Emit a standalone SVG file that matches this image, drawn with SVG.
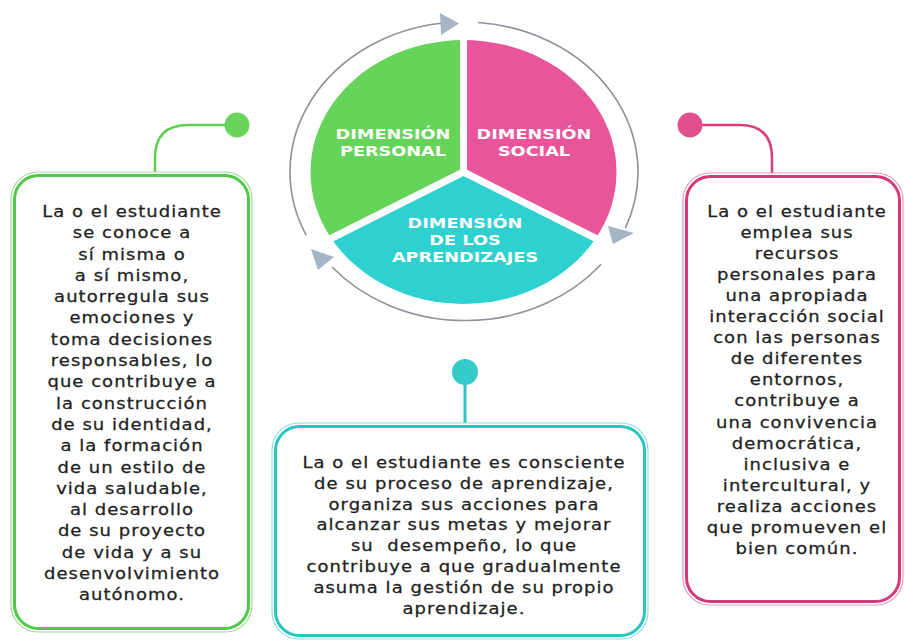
<svg xmlns="http://www.w3.org/2000/svg" width="905" height="641" viewBox="0 0 905 641">
<style>
.body{font-family:"DejaVu Sans","Liberation Sans",sans-serif;font-size:15.5px;fill:#222;stroke:#222;stroke-width:0.25px;letter-spacing:0.9px;text-anchor:middle}
.lbl{font-family:"DejaVu Sans","Liberation Sans",sans-serif;font-size:14.5px;font-weight:bold;fill:#fff;text-anchor:middle}
.ring{fill:none;stroke:#8c939b;stroke-width:1.6}
.tip{fill:#a4b6c6}
.div{stroke:#fff;stroke-width:7}
</style>
<rect width="905" height="641" fill="#fff"/>

<g id="connectors">
  <path class="ring" d="M 306.3 235.4 A 174 150 0 0 1 441 23.3"/>
  <path class="ring" d="M 478 22.5 A 174 150 0 0 1 625.3 228.2"/>
  <path class="ring" d="M 601.1 264.3 A 174 150 0 0 1 332 267"/>
  <polygon class="tip" points="440,13 459,23.5 441,35"/>
  <polygon class="tip" points="608,226 634,233 613,244"/>
  <polygon class="tip" points="311,249 334,257 318,270"/>
  <path d="M 225 125 H 188 Q 155 125 155 158 V 173" fill="none" stroke="#5fcf52" stroke-width="2.5"/>
  <circle cx="237" cy="125" r="12.5" fill="#6bd45c"/>
  <path d="M 465 384 V 424" fill="none" stroke="#2fc6c2" stroke-width="3"/>
  <circle cx="465" cy="372" r="13" fill="#33ccc9"/>
  <path d="M 702 125 H 740 Q 772 125 772 158 V 174" fill="none" stroke="#d7407f" stroke-width="2.5"/>
  <circle cx="690" cy="125" r="12.5" fill="#e0508e"/>
</g>

<g id="node-dimension-personal">
  <path d="M 463.5 172 L 463.5 40 A 153 132 0 0 0 331 238 Z" fill="#66d35a"/>
  <g transform="translate(393 0) scale(1.22 1)">
    <text class="lbl" x="0" y="139">DIMENSIÓN</text>
    <text class="lbl" x="0" y="156">PERSONAL</text>
  </g>
</g>
<g id="node-dimension-social">
  <path d="M 463.5 172 L 463.5 40 A 153 132 0 0 1 596 238 Z" fill="#e9559b"/>
  <g transform="translate(534 0) scale(1.22 1)">
    <text class="lbl" x="0" y="139">DIMENSIÓN</text>
    <text class="lbl" x="0" y="156">SOCIAL</text>
  </g>
</g>
<g id="node-dimension-aprendizajes">
  <path d="M 463.5 172 L 331 238 A 153 132 0 0 0 596 238 Z" fill="#2ed0d0"/>
  <g transform="translate(465 0) scale(1.22 1)">
    <text class="lbl" x="0" y="228">DIMENSIÓN</text>
    <text class="lbl" x="0" y="245">DE LOS</text>
    <text class="lbl" x="0" y="262">APRENDIZAJES</text>
  </g>
</g>
<g id="pie-dividers">
  <line class="div" x1="463.5" y1="174" x2="463.5" y2="36"/>
  <line class="div" x1="463.5" y1="172" x2="326" y2="241"/>
  <line class="div" x1="463.5" y1="172" x2="601" y2="241"/>
</g>

<g id="box-personal">
  <rect x="11" y="172" width="241" height="460" rx="27" fill="#fff" stroke="#9fdf94" stroke-width="1.2"/>
  <rect x="14.5" y="175.5" width="234" height="453" rx="24" fill="none" stroke="#4fc947" stroke-width="3"/>
  <g transform="translate(132 0) scale(1.16 1)">
    <text class="body" x="0" y="217">La o el estudiante</text>
    <text class="body" x="0" y="238.3">se conoce a</text>
    <text class="body" x="0" y="259.6">sí misma o</text>
    <text class="body" x="0" y="280.9">a sí mismo,</text>
    <text class="body" x="0" y="302.2">autorregula sus</text>
    <text class="body" x="0" y="323.5">emociones y</text>
    <text class="body" x="0" y="344.8">toma decisiones</text>
    <text class="body" x="0" y="366.1">responsables, lo</text>
    <text class="body" x="0" y="387.4">que contribuye a</text>
    <text class="body" x="0" y="408.7">la construcción</text>
    <text class="body" x="0" y="430">de su identidad,</text>
    <text class="body" x="0" y="451.3">a la formación</text>
    <text class="body" x="0" y="472.6">de un estilo de</text>
    <text class="body" x="0" y="493.9">vida saludable,</text>
    <text class="body" x="0" y="515.2">al desarrollo</text>
    <text class="body" x="0" y="536.5">de su proyecto</text>
    <text class="body" x="0" y="557.8">de vida y a su</text>
    <text class="body" x="0" y="579.1">desenvolvimiento</text>
    <text class="body" x="0" y="600.4">autónomo.</text>
  </g>
</g>

<g id="box-aprendizajes">
  <rect x="272" y="423" width="376" height="216" rx="27" fill="#fff" stroke="#8fe0dd" stroke-width="1.2"/>
  <rect x="275.5" y="426.5" width="369" height="209" rx="24" fill="none" stroke="#2bc4c0" stroke-width="3"/>
  <g transform="translate(464 0) scale(1.16 1)">
    <text class="body" x="0" y="468">La o el estudiante es consciente</text>
    <text class="body" x="0" y="488.8">de su proceso de aprendizaje,</text>
    <text class="body" x="0" y="509.6">organiza sus acciones para</text>
    <text class="body" x="0" y="530.4">alcanzar sus metas y mejorar</text>
    <text class="body" x="0" y="551.2" style="white-space:pre">su  desempeño, lo que</text>
    <text class="body" x="0" y="572">contribuye a que gradualmente</text>
    <text class="body" x="0" y="592.8">asuma la gestión de su propio</text>
    <text class="body" x="0" y="613.6">aprendizaje.</text>
  </g>
</g>

<g id="box-social">
  <rect x="683" y="173" width="220" height="432" rx="27" fill="#fff" stroke="#e79bbb" stroke-width="1.2"/>
  <rect x="686.5" y="176.5" width="213" height="425" rx="24" fill="none" stroke="#d6387b" stroke-width="3"/>
  <g transform="translate(797 0) scale(1.16 1)">
    <text class="body" x="0" y="217">La o el estudiante</text>
    <text class="body" x="0" y="238.1">emplea sus</text>
    <text class="body" x="0" y="259.1">recursos</text>
    <text class="body" x="0" y="280.2">personales para</text>
    <text class="body" x="0" y="301.2">una apropiada</text>
    <text class="body" x="0" y="322.3">interacción social</text>
    <text class="body" x="0" y="343.4">con las personas</text>
    <text class="body" x="0" y="364.4">de diferentes</text>
    <text class="body" x="0" y="385.5">entornos,</text>
    <text class="body" x="0" y="406.5">contribuye a</text>
    <text class="body" x="0" y="427.6">una convivencia</text>
    <text class="body" x="0" y="448.7">democrática,</text>
    <text class="body" x="0" y="469.7">inclusiva e</text>
    <text class="body" x="0" y="490.8">intercultural, y</text>
    <text class="body" x="0" y="511.8">realiza acciones</text>
    <text class="body" x="0" y="532.9">que promueven el</text>
    <text class="body" x="0" y="554">bien común.</text>
  </g>
</g>
</svg>
